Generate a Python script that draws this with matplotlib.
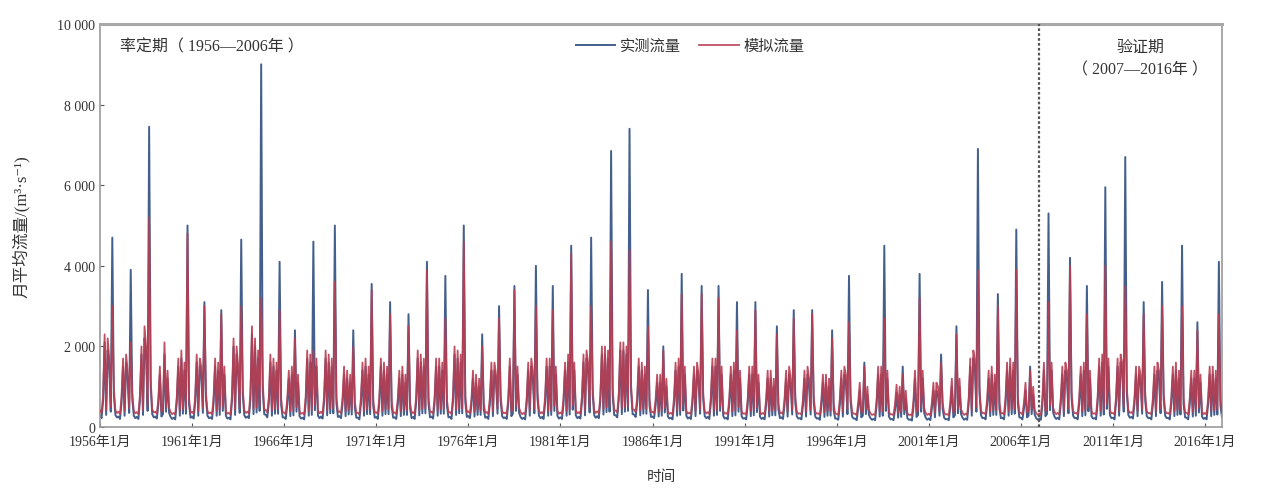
import matplotlib
matplotlib.use("Agg")
import matplotlib.pyplot as plt
from matplotlib.ticker import FixedLocator, FuncFormatter
import numpy as np

plt.rcParams['font.family'] = ['Liberation Serif', 'Noto Sans CJK SC', 'DejaVu Sans']

# Monthly mean discharge (m3/s), one row per year, Jan..Dec
years = list(range(1956, 2017))

observed_monthly = [
    [300, 220, 650, 2100, 300, 1900, 1500, 380, 4700, 800, 300, 240],    # 1956
    [260, 200, 600, 1500, 280, 1600, 1200, 350, 3900, 700, 280, 220],    # 1957
    [250, 200, 650, 1800, 300, 2200, 1800, 400, 7450, 1000, 320, 240],   # 1958
    [260, 210, 550, 1300, 260, 320, 1800, 380, 1200, 350, 250, 200],     # 1959
    [230, 190, 600, 1500, 280, 1700, 330, 1400, 330, 5000, 550, 230],    # 1960
    [260, 210, 600, 1600, 280, 1500, 1300, 350, 3100, 700, 280, 220],    # 1961
    [240, 200, 600, 1500, 280, 1400, 300, 2900, 400, 1300, 280, 210],    # 1962
    [230, 190, 650, 2000, 300, 1800, 1300, 350, 4650, 800, 290, 230],    # 1963
    [260, 220, 700, 2300, 320, 2000, 360, 1700, 400, 9000, 900, 320],    # 1964
    [300, 240, 600, 1600, 280, 1500, 330, 1400, 330, 4100, 550, 240],    # 1965
    [240, 200, 550, 1200, 270, 1300, 290, 2400, 380, 1100, 270, 210],    # 1966
    [230, 190, 600, 1700, 280, 1600, 300, 4600, 420, 1500, 280, 220],    # 1967
    [260, 210, 620, 1700, 290, 1600, 340, 1500, 340, 5000, 600, 250],    # 1968
    [270, 220, 560, 1300, 270, 1200, 310, 1100, 310, 2400, 480, 230],    # 1969
    [230, 190, 580, 1400, 280, 1500, 320, 1300, 320, 3550, 520, 230],    # 1970
    [250, 200, 600, 1500, 280, 1400, 320, 1300, 320, 3100, 500, 230],    # 1971
    [240, 200, 550, 1200, 270, 1300, 300, 1100, 300, 2800, 460, 220],    # 1972
    [250, 200, 620, 1700, 290, 1600, 340, 1500, 340, 4100, 580, 240],    # 1973
    [260, 210, 600, 1500, 280, 1500, 330, 1400, 330, 3750, 540, 240],    # 1974
    [250, 200, 640, 1800, 300, 1700, 340, 1600, 340, 5000, 620, 250],    # 1975
    [270, 220, 540, 1200, 260, 1100, 300, 1000, 300, 2300, 440, 230],    # 1976
    [250, 200, 580, 1400, 270, 1400, 1100, 330, 3000, 650, 270, 220],    # 1977
    [240, 200, 580, 1500, 270, 330, 3500, 400, 1300, 360, 250, 200],     # 1978
    [230, 190, 580, 1400, 280, 1500, 1200, 340, 4000, 720, 280, 220],    # 1979
    [250, 200, 600, 1500, 280, 1500, 300, 3500, 400, 1300, 280, 210],    # 1980
    [240, 200, 580, 1400, 280, 1600, 310, 4500, 430, 1400, 290, 220],    # 1981
    [250, 210, 620, 1600, 290, 1700, 1400, 360, 4700, 800, 290, 230],    # 1982
    [270, 220, 650, 1800, 310, 1800, 370, 1700, 380, 6850, 800, 300],    # 1983
    [290, 240, 680, 1900, 320, 1900, 380, 1800, 400, 7400, 900, 320],    # 1984
    [310, 250, 600, 1500, 290, 1400, 330, 1300, 330, 3400, 540, 250],    # 1985
    [260, 220, 540, 1100, 260, 1100, 280, 2000, 360, 1000, 260, 210],    # 1986
    [230, 190, 580, 1400, 280, 1500, 300, 3800, 410, 1300, 280, 210],    # 1987
    [240, 200, 580, 1300, 270, 1400, 1100, 330, 3500, 680, 270, 220],    # 1988
    [250, 200, 600, 1500, 280, 1500, 300, 3500, 400, 1300, 280, 210],    # 1989
    [230, 190, 570, 1300, 270, 1400, 290, 3100, 380, 1200, 270, 210],    # 1990
    [220, 190, 550, 1300, 270, 1300, 290, 3100, 370, 1100, 260, 200],    # 1991
    [230, 190, 540, 1200, 260, 1200, 290, 1000, 290, 2500, 430, 220],    # 1992
    [240, 200, 550, 1200, 260, 1300, 1000, 310, 2900, 600, 260, 210],    # 1993
    [220, 190, 540, 1200, 260, 1300, 1000, 310, 2900, 600, 260, 210],    # 1994
    [220, 180, 520, 1100, 250, 1100, 280, 1000, 280, 2400, 420, 210],    # 1995
    [210, 180, 540, 1200, 260, 1300, 1100, 320, 3750, 640, 260, 210],    # 1996
    [210, 170, 460, 900, 240, 280, 1600, 320, 800, 300, 220, 180],       # 1997
    [200, 170, 540, 1300, 260, 1300, 280, 4500, 400, 1200, 260, 190],    # 1998
    [200, 170, 430, 850, 230, 800, 250, 1500, 320, 700, 220, 180],       # 1999
    [190, 160, 500, 1200, 250, 300, 3800, 380, 1200, 340, 230, 180],     # 2000
    [210, 170, 460, 900, 240, 900, 800, 280, 1800, 450, 230, 190],       # 2001
    [200, 170, 470, 1000, 240, 290, 2500, 340, 1000, 320, 230, 180],     # 2002
    [210, 180, 580, 1500, 280, 1700, 1500, 380, 6900, 850, 290, 220],    # 2003
    [230, 190, 540, 1200, 270, 1300, 300, 1100, 300, 3300, 460, 220],    # 2004
    [230, 190, 580, 1400, 280, 1500, 320, 1400, 330, 4900, 580, 240],    # 2005
    [230, 190, 460, 900, 240, 280, 1500, 320, 800, 300, 220, 180],       # 2006
    [210, 180, 540, 1400, 270, 320, 5300, 420, 1400, 360, 250, 200],     # 2007
    [230, 190, 580, 1300, 270, 1400, 1200, 340, 4200, 720, 280, 220],    # 2008
    [230, 190, 570, 1300, 270, 1400, 290, 3500, 390, 1200, 270, 210],    # 2009
    [220, 190, 600, 1500, 280, 1600, 310, 5950, 450, 1500, 290, 220],    # 2010
    [230, 190, 600, 1500, 280, 1600, 1400, 380, 6700, 850, 300, 230],    # 2011
    [250, 210, 570, 1300, 270, 1300, 1100, 330, 3100, 650, 270, 220],    # 2012
    [230, 190, 570, 1300, 270, 1400, 1200, 340, 3600, 700, 280, 220],    # 2013
    [230, 190, 570, 1300, 270, 1400, 300, 1200, 310, 4500, 560, 240],    # 2014
    [230, 190, 550, 1200, 260, 1200, 280, 2600, 360, 1100, 260, 200],    # 2015
    [230, 190, 570, 1300, 270, 1300, 300, 1200, 310, 4100, 540, 240],    # 2016
]

simulated_monthly = [
    [420, 340, 800, 2300, 420, 2200, 1700, 500, 3000, 950, 420, 350],    # 1956
    [380, 320, 750, 1700, 400, 1800, 1400, 470, 2100, 850, 400, 340],    # 1957
    [370, 320, 800, 2000, 420, 2500, 2000, 520, 5200, 1200, 440, 360],   # 1958
    [380, 330, 700, 1500, 380, 440, 2100, 500, 1400, 470, 370, 320],     # 1959
    [350, 310, 750, 1700, 400, 1900, 450, 1600, 450, 4800, 700, 350],    # 1960
    [380, 330, 750, 1800, 400, 1700, 1500, 470, 3000, 850, 400, 340],    # 1961
    [360, 320, 750, 1700, 400, 1600, 420, 2800, 520, 1500, 400, 330],    # 1962
    [350, 310, 800, 2200, 420, 2000, 1500, 470, 3000, 950, 410, 350],    # 1963
    [380, 340, 850, 2500, 440, 2200, 480, 1900, 520, 3200, 1100, 440],   # 1964
    [420, 360, 750, 1800, 400, 1700, 450, 1600, 450, 2900, 700, 360],    # 1965
    [360, 320, 700, 1400, 390, 1500, 410, 2200, 500, 1300, 390, 330],    # 1966
    [350, 310, 750, 1900, 400, 1800, 420, 1900, 540, 1700, 400, 340],    # 1967
    [380, 330, 770, 1900, 410, 1800, 460, 1700, 460, 3600, 750, 370],    # 1968
    [390, 340, 710, 1500, 390, 1400, 430, 1300, 430, 2000, 630, 350],    # 1969
    [350, 310, 730, 1600, 400, 1700, 440, 1500, 440, 3400, 670, 350],    # 1970
    [370, 320, 750, 1700, 400, 1600, 440, 1500, 440, 2800, 650, 350],    # 1971
    [360, 320, 700, 1400, 390, 1500, 420, 1300, 420, 2500, 610, 340],    # 1972
    [370, 320, 770, 1900, 410, 1800, 460, 1700, 460, 3900, 730, 360],    # 1973
    [380, 330, 750, 1700, 400, 1700, 450, 1600, 450, 2700, 690, 360],    # 1974
    [370, 320, 790, 2000, 420, 1900, 460, 1800, 460, 4600, 770, 370],    # 1975
    [390, 340, 690, 1400, 380, 1300, 420, 1200, 420, 2000, 590, 350],    # 1976
    [370, 320, 730, 1600, 390, 1600, 1300, 450, 2700, 800, 390, 340],    # 1977
    [360, 320, 730, 1700, 390, 450, 3400, 520, 1500, 480, 370, 320],     # 1978
    [350, 310, 730, 1600, 400, 1700, 1400, 460, 3000, 870, 400, 340],    # 1979
    [370, 320, 750, 1700, 400, 1700, 420, 2900, 520, 1500, 400, 330],    # 1980
    [360, 320, 730, 1600, 400, 1800, 430, 4300, 550, 1600, 410, 340],    # 1981
    [370, 330, 770, 1800, 410, 1900, 1600, 480, 3000, 950, 410, 350],    # 1982
    [390, 340, 800, 2000, 430, 2000, 490, 1900, 500, 4600, 950, 420],    # 1983
    [410, 360, 830, 2100, 440, 2100, 500, 2000, 520, 4400, 1050, 440],   # 1984
    [430, 370, 750, 1700, 410, 1600, 450, 1500, 450, 2500, 690, 370],    # 1985
    [380, 340, 690, 1300, 380, 1300, 400, 1900, 480, 1200, 380, 330],    # 1986
    [350, 310, 730, 1600, 400, 1700, 420, 3300, 530, 1500, 400, 330],    # 1987
    [360, 320, 730, 1500, 390, 1600, 1300, 450, 3300, 830, 390, 340],    # 1988
    [370, 320, 750, 1700, 400, 1700, 420, 3200, 520, 1500, 400, 330],    # 1989
    [350, 310, 720, 1500, 390, 1600, 410, 2400, 500, 1400, 390, 330],    # 1990
    [340, 310, 700, 1500, 390, 1500, 410, 2900, 490, 1300, 380, 320],    # 1991
    [350, 310, 690, 1400, 380, 1400, 410, 1200, 410, 2300, 580, 340],    # 1992
    [360, 320, 700, 1400, 380, 1500, 1200, 430, 2700, 750, 380, 330],    # 1993
    [340, 310, 690, 1400, 380, 1500, 1200, 430, 2800, 750, 380, 330],    # 1994
    [340, 300, 670, 1300, 370, 1300, 400, 1200, 400, 2200, 570, 330],    # 1995
    [330, 300, 690, 1400, 380, 1500, 1300, 440, 2600, 790, 380, 330],    # 1996
    [330, 290, 610, 1100, 360, 400, 1500, 440, 1000, 420, 340, 300],     # 1997
    [320, 290, 690, 1500, 380, 1500, 400, 2700, 520, 1400, 380, 310],    # 1998
    [320, 290, 580, 1050, 350, 1000, 370, 1300, 440, 900, 340, 300],     # 1999
    [310, 280, 650, 1400, 370, 420, 3200, 500, 1400, 460, 350, 300],     # 2000
    [330, 290, 610, 1100, 360, 1100, 1000, 400, 1600, 600, 350, 310],    # 2001
    [320, 290, 620, 1200, 360, 410, 2300, 460, 1200, 440, 350, 300],     # 2002
    [330, 300, 730, 1700, 400, 1900, 1700, 500, 3900, 1000, 410, 340],   # 2003
    [350, 310, 690, 1400, 390, 1500, 420, 1300, 420, 3000, 610, 340],    # 2004
    [350, 310, 730, 1600, 400, 1700, 440, 1600, 450, 3900, 730, 360],    # 2005
    [350, 310, 610, 1100, 360, 400, 1400, 440, 1000, 420, 340, 300],     # 2006
    [330, 300, 690, 1600, 390, 440, 3100, 540, 1600, 480, 370, 320],     # 2007
    [350, 310, 730, 1500, 390, 1600, 1400, 460, 4000, 870, 400, 340],    # 2008
    [350, 310, 720, 1500, 390, 1600, 410, 2800, 510, 1400, 390, 330],    # 2009
    [340, 310, 750, 1700, 400, 1800, 430, 4000, 570, 1700, 410, 340],    # 2010
    [350, 310, 750, 1700, 400, 1800, 1600, 500, 3500, 1000, 420, 350],   # 2011
    [370, 330, 720, 1500, 390, 1500, 1300, 450, 2800, 800, 390, 340],    # 2012
    [350, 310, 720, 1500, 390, 1600, 1400, 460, 3000, 850, 400, 340],    # 2013
    [350, 310, 720, 1500, 390, 1600, 420, 1400, 430, 3000, 710, 360],    # 2014
    [350, 310, 700, 1400, 380, 1400, 400, 2400, 480, 1300, 380, 320],    # 2015
    [350, 310, 720, 1500, 390, 1500, 420, 1400, 430, 2800, 690, 360],    # 2016
]

tick_years = list(range(1956, 2017, 5))
tick_labels = [f"{y}年1月" for y in tick_years]
split_year = 2007  # start of the validation period

obs = np.concatenate([np.asarray(r, float) for r in observed_monthly])
sim = np.concatenate([np.asarray(r, float) for r in simulated_monthly])
t = np.arange(obs.size)  # month index from Jan 1956

fig = plt.figure(figsize=(12.63, 4.89), dpi=100)
ax = fig.add_axes([0.0792, 0.1247, 0.8883, 0.8242])

obs_color = '#445f8c'
sim_color = '#b73d52'
ax.plot(t, obs, color=obs_color, lw=1.4, label='实测流量', zorder=2)
ax.plot(t, sim, color=sim_color, lw=1.3, alpha=0.9, label='模拟流量', zorder=3)

ax.set_xlim(0, obs.size - 1)
ax.set_ylim(0, 10000)

ax.xaxis.set_major_locator(FixedLocator([(y - 1956) * 12 for y in tick_years]))
ax.set_xticklabels(tick_labels)
ax.yaxis.set_major_locator(FixedLocator([0, 2000, 4000, 6000, 8000, 10000]))
ax.yaxis.set_major_formatter(FuncFormatter(lambda v, p: f"{int(v):,}".replace(',', ' ')))

ax.tick_params(axis='both', labelsize=10, colors='#555555', labelcolor='#333333',
               direction='in', length=3, width=0.8)
ax.tick_params(axis='x', pad=6)

for side in ['left', 'right', 'bottom']:
    ax.spines[side].set_color('#9a9a9a')
    ax.spines[side].set_linewidth(1.2)
ax.spines['top'].set_color('#a8a8a8')
ax.spines['top'].set_linewidth(2.2)

ax.axvline((split_year - 1956) * 12, color='#555555', lw=1.6, ls=(0, (1.2, 1.0)), zorder=4)

ax.text(0.018, 0.945, '率定期（ 1956—2006年 ）', transform=ax.transAxes,
        ha='left', va='center', fontsize=11.5, color='#333333')
ax.text(0.927, 0.915, '验证期\n（ 2007—2016年 ）', transform=ax.transAxes,
        ha='center', va='center', fontsize=11.5, color='#333333', linespacing=1.5)

leg = ax.legend(loc='center', bbox_to_anchor=(0.526, 0.945), ncol=2, frameon=False,
                fontsize=11, handlelength=2.6, handletextpad=0.3, columnspacing=1.2)
for txt in leg.get_texts():
    txt.set_color('#333333')

ax.set_xlabel('时间', fontsize=10.5, color='#333333', labelpad=15)
ax.set_ylabel('月平均流量/(m³·s⁻¹)', fontsize=12, color='#333333', labelpad=20)

fig.savefig('out.png', dpi=100, facecolor='white')
